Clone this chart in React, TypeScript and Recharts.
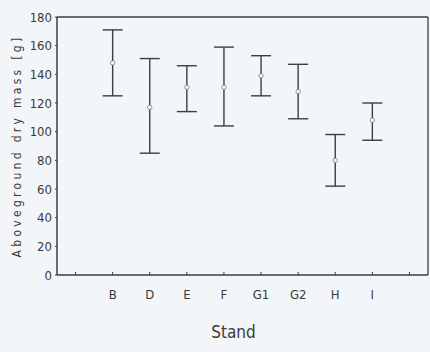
import React from 'react';
import { ComposedChart, Line, XAxis, YAxis, ErrorBar, ReferenceLine } from 'recharts';

const categories = ['', 'B', 'D', 'E', 'F', 'G1', 'G2', 'H', 'I', ''];
const means = [null, 148, 117, 131, 131, 139, 128, 80, 108, null];
const upper = [null, 171, 151, 146, 159, 153, 147, 98, 120, null];
const lower = [null, 125, 85, 114, 104, 125, 109, 62, 94, null];
const yTicks = [0, 20, 40, 60, 80, 100, 120, 140, 160, 180];
const xTicks = categories.map((_, i) => i);

const data = categories.map((c, i) => ({
  idx: i,
  name: c,
  mean: means[i],
  err: means[i] == null ? [0, 0] : [(means[i] as number) - (lower[i] as number), (upper[i] as number) - (means[i] as number)],
}));

const FONT = "'DejaVu Sans Condensed', 'DejaVu Sans', sans-serif";
const INK = '#3b3f3b';
const TXT = '#3a3a3a';

const Dot = (props: any) => {
  const { cx, cy, payload } = props;
  if (payload.mean == null || cx == null || cy == null) return null;
  return <circle cx={cx} cy={cy} r={2.2} fill="#ffffff" stroke="#777" strokeWidth={0.8} />;
};

export default function App() {
  return (
    <div style={{ position: 'absolute', left: 0, top: 0, width: 430, height: 352, background: '#f3f6f9' }}>
      <ComposedChart width={430} height={352} data={data} margin={{ top: 17, right: 2, bottom: 47, left: 0 }}>
        <XAxis
          dataKey="idx"
          type="number"
          domain={[-0.5, 9.5]}
          ticks={xTicks}
          interval={0}
          tickFormatter={(v: number) => categories[v] ?? ''}
          height={30}
          tickSize={-3}
          tickMargin={18}
          stroke={INK}
          axisLine={{ stroke: INK, strokeWidth: 1.5 }}
          tick={{ fill: TXT, fontSize: 13, fontFamily: FONT, style: { fontStretch: 'condensed' } }}
          label={{ value: 'Stand', position: 'insideBottom', offset: -33, dx: -9, fill: TXT, fontSize: 17, fontFamily: FONT, style: { fontStretch: 'condensed' } }}
        />
        <YAxis
          domain={[0, 180]}
          ticks={yTicks}
          width={57}
          tickSize={2}
          tickMargin={3}
          stroke={INK}
          axisLine={{ stroke: INK, strokeWidth: 1.5 }}
          tick={{ fill: TXT, fontSize: 13, fontFamily: FONT, style: { fontStretch: 'condensed' } }}
          label={{ value: 'Aboveground dry mass [g]', angle: -90, position: 'insideLeft', offset: 17, fill: TXT, fontSize: 12, fontFamily: FONT, letterSpacing: 3.3, style: { textAnchor: 'middle', fontStretch: 'condensed' } }}
        />
        <ReferenceLine y={180} stroke={INK} strokeWidth={1.3} ifOverflow="visible" />
        <ReferenceLine x={9.5} stroke={INK} strokeWidth={1.3} ifOverflow="visible" />
        <Line
          dataKey="mean"
          stroke="none"
          strokeWidth={0}
          dot={<Dot />}
          activeDot={false}
          isAnimationActive={false}
        >
          <ErrorBar dataKey="err" width={10} stroke={INK} strokeWidth={1.4} direction="y" />
        </Line>
      </ComposedChart>
    </div>
  );
}
